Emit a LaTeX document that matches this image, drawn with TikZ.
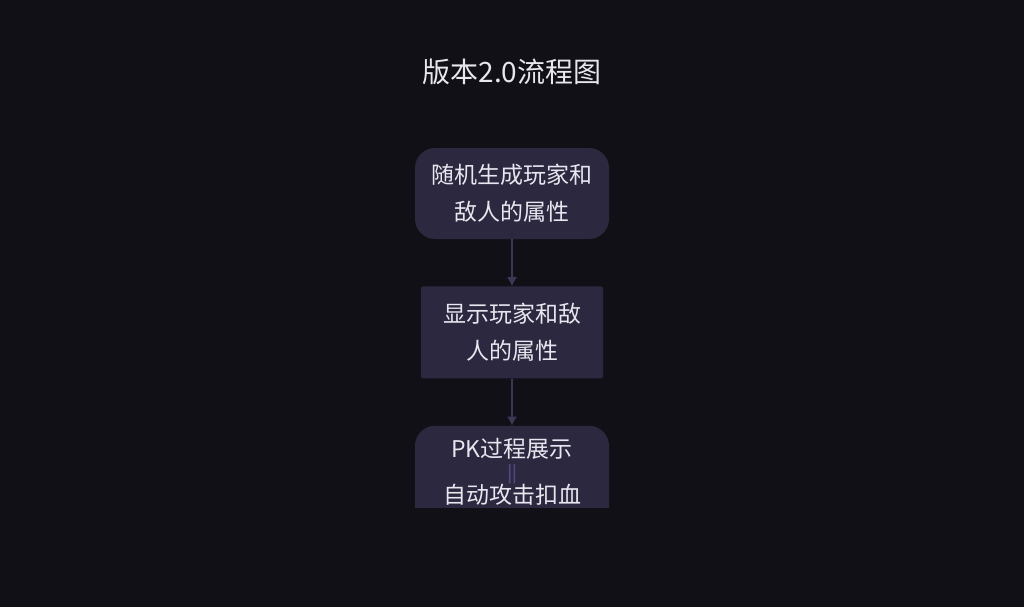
\documentclass[tikz,border=0pt]{standalone}
\usepackage{fontspec}
\newfontfamily\cjk{Noto Sans CJK SC}
\newfontfamily\cjkdim[FakeBold=2]{Noto Sans CJK SC}
\usetikzlibrary{arrows.meta,positioning}
\definecolor{bgcol}{HTML}{111016}
\definecolor{boxcol}{HTML}{2B2840}
\definecolor{linecol}{HTML}{3B3856}
\definecolor{dimcol}{HTML}{4E4A7E}
\definecolor{txtcol}{HTML}{E8E6EE}

\begin{document}
\begin{tikzpicture}[x=1pt,y=-1pt,
  every node/.style={text=txtcol,font=\cjk\fontsize{23}{37}\selectfont,align=center,inner sep=0pt},
  rbox/.style={fill=boxcol,rounded corners=20pt,minimum width=194pt,minimum height=91pt},
  sbox/.style={fill=boxcol,rounded corners=1.5pt,minimum width=182pt,minimum height=92pt},
  flow/.style={draw=linecol,line width=1.3pt,-{Latex[length=9pt,width=10pt]}},
  node distance=47pt
]

\fill[bgcol] (0,0) rectangle (1024,607);
\useasboundingbox (0,0) rectangle (1024,607);

% title
\node[font=\cjk\fontsize{28}{32}\selectfont] (title) at (512,72) {版本2.0流程图};

% the steps
\node[rbox] (rand) at (512,193.5) {随机生成玩家和\\敌人的属性};
\node[sbox,below=of rand] (show) {显示玩家和敌\\人的属性};

\begin{scope}
  \clip (0,0) rectangle (1024,507);
  \node[rbox,minimum height=130pt,below=of show] (pk) {};
\end{scope}
\node[anchor=north] (pktxt) at ([yshift=-12.5pt]pk.north)
  {PK过程展示\\[-16pt]{\color{dimcol}\cjkdim\fontsize{17}{18}\selectfont||}\\[-12pt]自动攻击扣血};

% the edges
\draw[flow] (rand) -- (show);
\draw[flow] (show) -- (pk);

\end{tikzpicture}
\end{document}
